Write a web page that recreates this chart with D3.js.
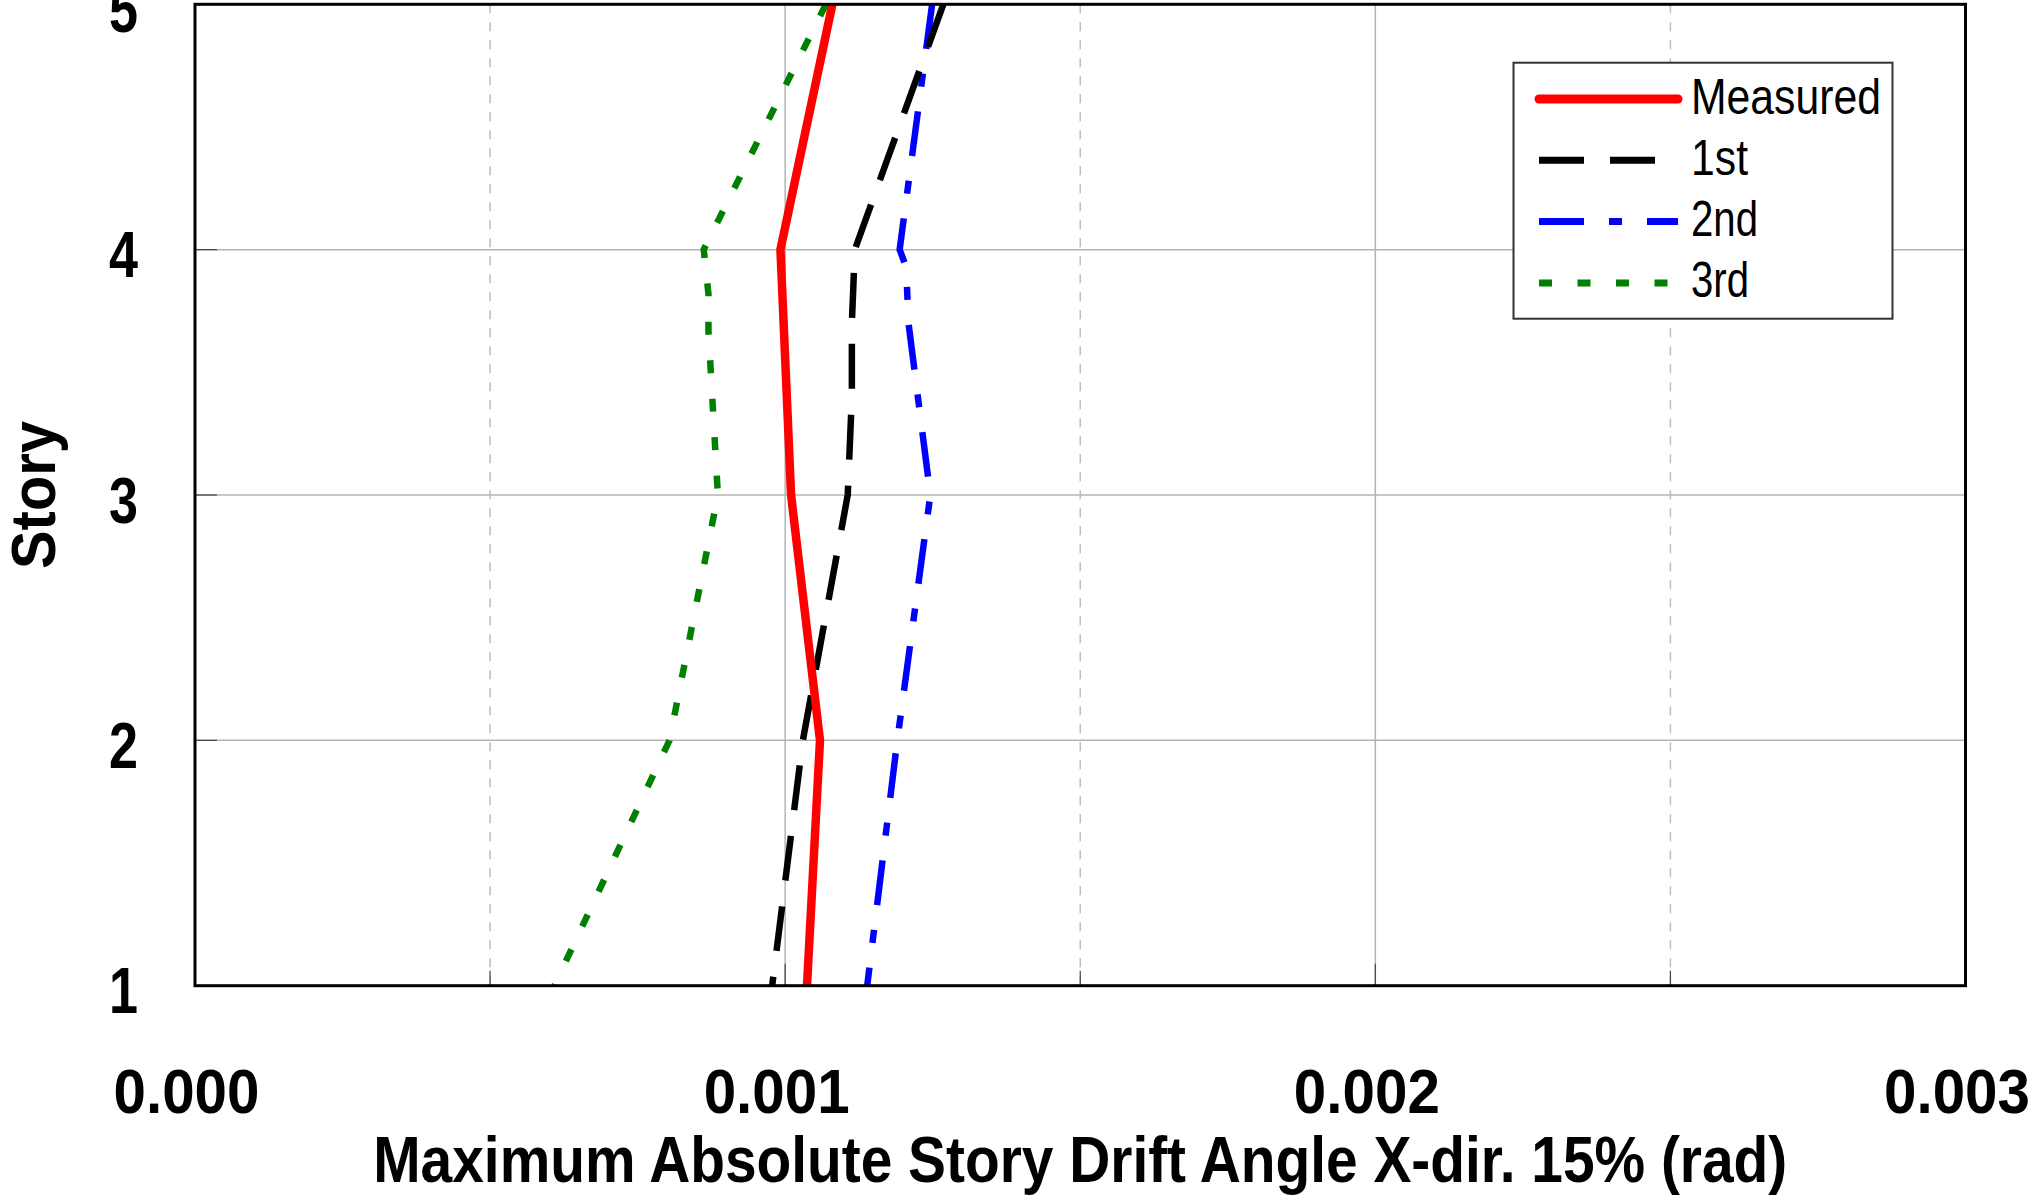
<!DOCTYPE html>
<html>
<head>
<meta charset="utf-8">
<script src="https://cdn.jsdelivr.net/npm/d3@7"></script>
<style>
  html, body { margin: 0; padding: 0; background: #fff; }
  svg { display: block; }
  .lbl { font-family: "Liberation Sans", Arial, sans-serif; fill: #000; }
</style>
</head>
<body>
<script>
// Story levels listed from the roof down, with the drift angle (rad) at each level
const measuredStory = [5, 4, 3, 2, 1];
const measuredDrift = [0.001080, 0.000992, 0.001010, 0.001059, 0.001037];

const firstStory = [5, 4, 3.7, 3.4, 3, 2, 1];
const firstDrift = [0.001268, 0.001118, 0.001113, 0.001113, 0.001106, 0.001030, 0.000978];

const secondStory = [5, 4, 3.93, 3.7, 3, 2, 1];
const secondDrift = [0.001249, 0.001194, 0.001205, 0.001209, 0.001246, 0.001190, 0.001139];

const thirdStory = [5, 4, 3.82, 3.67, 3, 2, 1];
const thirdDrift = [0.001069, 0.000862, 0.000870, 0.000870, 0.000886, 0.000804, 0.000609];

const seriesNames = ["Measured", "1st", "2nd", "3rd"];

const xTicks = [0, 0.001, 0.002, 0.003];
const xTickLabels = ["0.000", "0.001", "0.002", "0.003"];
const xMinorGrid = [0.0005, 0.0015, 0.0025];
const xMajorGrid = [0.001, 0.002];
const yTicks = [1, 2, 3, 4, 5];
const yGrid = [2, 3, 4];

const xTitle = "Maximum Absolute Story Drift Angle X-dir. 15% (rad)";
const yTitle = "Story";

// ---- layout ----
const W = 2036, H = 1202;
const plot = { left: 195, right: 1965.5, top: 4.3, bottom: 985.7 };

const x = d3.scaleLinear().domain([0, 0.003]).range([plot.left, plot.right]);
const y = d3.scaleLinear().domain([1, 5]).range([plot.bottom, plot.top]);

const svg = d3.select("body").append("svg")
  .attr("width", W).attr("height", H)
  .attr("viewBox", `0 0 ${W} ${H}`);

// condensed lettering: squeeze a text run to a given advance width
const narrow = (sel, len) => sel.attr("textLength", len).attr("lengthAdjust", "spacingAndGlyphs");

// ---- grid ----
const grid = svg.append("g").attr("class", "grid");
grid.selectAll("line.vminor").data(xMinorGrid).join("line")
  .attr("x1", d => x(d)).attr("x2", d => x(d))
  .attr("y1", plot.top).attr("y2", plot.bottom)
  .attr("stroke", "#bdbdbd").attr("stroke-width", 1.5)
  .attr("stroke-dasharray", "9,9");
grid.selectAll("line.vmajor").data(xMajorGrid).join("line")
  .attr("x1", d => x(d)).attr("x2", d => x(d))
  .attr("y1", plot.top).attr("y2", plot.bottom)
  .attr("stroke", "#b4b4b4").attr("stroke-width", 1.5);
grid.selectAll("line.h").data(yGrid).join("line")
  .attr("x1", plot.left).attr("x2", plot.right)
  .attr("y1", d => y(d)).attr("y2", d => y(d))
  .attr("stroke", "#b4b4b4").attr("stroke-width", 1.5);

// short inward tick marks
const ticks = svg.append("g");
ticks.selectAll("line.xt").data(xMajorGrid).join("line")
  .attr("x1", d => x(d)).attr("x2", d => x(d))
  .attr("y1", plot.bottom).attr("y2", plot.bottom - 22)
  .attr("stroke", "#444").attr("stroke-width", 1.2);
ticks.selectAll("line.xm").data(xMinorGrid).join("line")
  .attr("x1", d => x(d)).attr("x2", d => x(d))
  .attr("y1", plot.bottom).attr("y2", plot.bottom - 15)
  .attr("stroke", "#444").attr("stroke-width", 1.2);
ticks.selectAll("line.yt").data(yGrid).join("line")
  .attr("x1", plot.left).attr("x2", plot.left + 22)
  .attr("y1", d => y(d)).attr("y2", d => y(d))
  .attr("stroke", "#444").attr("stroke-width", 1.2);

// ---- series ----
const toPoints = (st, dr) => st.map((s, i) => ({ story: s, drift: dr[i] }));
const series = [
  { name: seriesNames[0], pts: toPoints(measuredStory, measuredDrift), color: "#ff0000", width: 8.5, dash: null, textLen: 190 },
  { name: seriesNames[1], pts: toPoints(firstStory, firstDrift), color: "#000000", width: 6.5, dash: "45,26", textLen: 57 },
  { name: seriesNames[2], pts: toPoints(secondStory, secondDrift), color: "#0000ff", width: 6.5, dash: "45,25,13,25", textLen: 67 },
  { name: seriesNames[3], pts: toPoints(thirdStory, thirdDrift), color: "#008000", width: 6.5, dash: "13,25.5", textLen: 58 }
];

const line = d3.line().x(d => x(d.drift)).y(d => y(d.story));

svg.append("clipPath").attr("id", "plotclip")
  .append("rect").attr("x", plot.left).attr("y", plot.top)
  .attr("width", plot.right - plot.left).attr("height", plot.bottom - plot.top);

const lines = svg.append("g").attr("clip-path", "url(#plotclip)");
// draw in reverse so the measured curve sits on top
series.slice().reverse().forEach(s => {
  lines.append("path")
    .attr("d", line(s.pts))
    .attr("fill", "none")
    .attr("stroke", s.color)
    .attr("stroke-width", s.width)
    .attr("stroke-linejoin", "miter")
    .attr("stroke-dasharray", s.dash);
});

// ---- frame ----
svg.append("rect")
  .attr("x", plot.left).attr("y", plot.top)
  .attr("width", plot.right - plot.left).attr("height", plot.bottom - plot.top)
  .attr("fill", "none").attr("stroke", "#000").attr("stroke-width", 3);

// ---- axis labels ----
const xAxis = d3.axisBottom(x).tickValues(xTicks)
  .tickFormat((d, i) => xTickLabels[i]).tickSize(0).tickPadding(0);
const gx = svg.append("g").attr("transform", `translate(0,${plot.bottom})`).call(xAxis);
gx.select(".domain").remove();
gx.selectAll("text")
  .attr("class", "lbl")
  .attr("font-size", 63)
  .attr("font-weight", "bold")
  .attr("dy", null)
  .attr("y", 127)
  .attr("dx", -9)
  .attr("fill", "#000")
  .call(narrow, 146);

const yAxis = d3.axisLeft(y).tickValues(yTicks).tickFormat(d3.format("d")).tickSize(0).tickPadding(0);
const gy = svg.append("g").attr("transform", `translate(${plot.left},0)`).call(yAxis);
gy.select(".domain").remove();
gy.selectAll("text")
  .attr("class", "lbl")
  .attr("font-size", 65)
  .attr("font-weight", "bold")
  .attr("x", -57)
  .attr("dy", 27)
  .attr("fill", "#000")
  .call(narrow, 29);

svg.append("text")
  .attr("class", "lbl")
  .attr("x", (plot.left + plot.right) / 2)
  .attr("y", 1182)
  .attr("text-anchor", "middle")
  .attr("font-size", 65)
  .attr("font-weight", "bold")
  .text(xTitle)
  .call(narrow, 1414);

svg.append("text")
  .attr("class", "lbl")
  .attr("transform", `translate(55,${(plot.top + plot.bottom) / 2}) rotate(-90)`)
  .attr("text-anchor", "middle")
  .attr("font-size", 63)
  .attr("font-weight", "bold")
  .text(yTitle)
  .call(narrow, 148);

// ---- legend ----
const lg = svg.append("g");
lg.append("rect")
  .attr("x", 1513.5).attr("y", 62.7).attr("width", 379).attr("height", 256)
  .attr("fill", "#fff").attr("stroke", "#333").attr("stroke-width", 2);
series.forEach((s, i) => {
  const ry = 99 + 61.3 * i;
  lg.append("line")
    .attr("x1", 1539).attr("x2", 1678)
    .attr("y1", ry).attr("y2", ry)
    .attr("stroke", s.color)
    .attr("stroke-width", i === 0 ? 9 : 7)
    .attr("stroke-linecap", i === 0 ? "round" : "butt")
    .attr("stroke-dasharray", s.dash);
  lg.append("text")
    .attr("class", "lbl")
    .attr("x", 1691).attr("y", ry + 14.5)
    .attr("font-size", 50)
    .text(s.name)
    .call(narrow, s.textLen);
});
</script>
</body>
</html>
